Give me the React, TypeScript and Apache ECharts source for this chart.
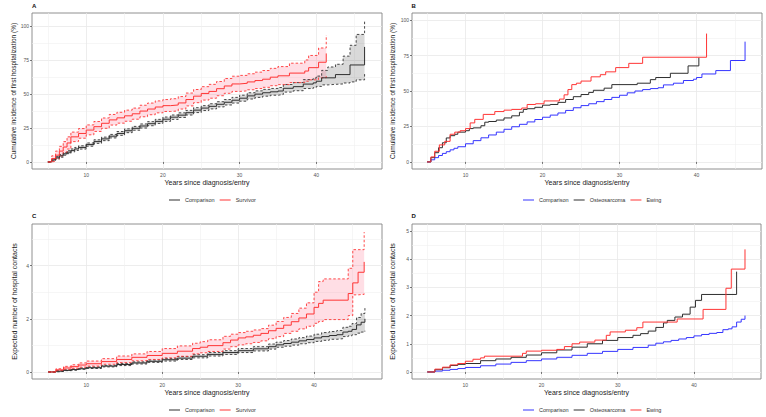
import React, { useEffect, useRef } from 'react';
import * as echarts from 'echarts';

// ---------- Panel A / B : cumulative incidence of first hospitalization (%) ----------
const compIncT = [5, 5.5, 6, 6.5, 7, 7.5, 8, 8.5, 9, 10, 11, 12, 13, 14, 15, 16, 17, 18, 19, 20, 21, 22, 23, 24, 25, 26, 27, 28, 29, 30, 31, 32, 33, 34, 35, 35.7, 37, 38.3, 39.6, 40, 40.7, 42.5, 44.4, 46.3];
const compIncV = [0, 1.5, 3, 4.5, 6, 7.2, 8.5, 9.6, 10.7, 12.8, 15, 17, 19, 21, 23, 24.8, 26.5, 28.2, 29.9, 31.5, 33, 34.5, 36.3, 38.2, 39.7, 41, 42.5, 44, 45.5, 47, 48.7, 50, 51, 51.7, 52.3, 54.3, 55.5, 57.4, 58.3, 59.5, 62, 64.4, 71.5, 84.8];
const compIncCiT = [5, 5.5, 6, 6.5, 7, 7.5, 8, 8.5, 9, 10, 11, 12, 13, 14, 15, 16, 17, 18, 19, 20, 21, 22, 23, 24, 25, 26, 27, 28, 29, 30, 31, 32, 33, 34, 35, 35.7, 37, 38.3, 39.6, 40, 40.7, 41.5, 42.5, 43.5, 44.4, 45.2, 46.3];
const compIncLo = [0, 0.8, 2.1, 3.5, 5, 6.1, 7.4, 8.5, 9.5, 11.6, 13.7, 15.7, 17.7, 19.6, 21.6, 23.4, 25, 26.7, 28.4, 29.9, 31.4, 32.8, 34.6, 36.4, 37.9, 39.1, 40.6, 42, 43.4, 44.8, 46.4, 47.6, 48.5, 49.2, 49.7, 51.5, 52.5, 54.1, 54.8, 55.7, 56.8, 57.2, 57.5, 58.2, 59, 60.5, 65];
const compIncHi = [0, 2.2, 3.9, 5.5, 7, 8.3, 9.6, 10.7, 11.9, 14, 16.3, 18.3, 20.3, 22.4, 24.4, 26.2, 28, 29.7, 31.4, 33.1, 34.6, 36.2, 38, 40, 41.5, 42.9, 44.4, 46, 47.6, 49.2, 51, 52.4, 53.5, 54.2, 54.9, 57.1, 58.5, 60.7, 61.8, 63.3, 67.5, 70, 72, 78, 86, 94, 104];

const survIncT = [5, 5.5, 6, 6.5, 7, 7.5, 8, 9, 10, 11, 12, 13, 14, 15, 16, 17, 18, 19, 20, 21, 22, 23, 24, 25, 26, 27, 28, 29, 30, 31, 32, 33, 34, 35, 36.5, 38.5, 39, 40.3, 41.3];
const survIncV = [0, 2.5, 5, 8, 11, 14, 18.5, 21, 23.5, 26, 28.5, 31, 32.5, 34, 35.5, 37.5, 39, 40.5, 41.5, 42, 43.5, 46, 48.5, 50.5, 52, 54, 56, 57.5, 58, 59, 60, 61, 62.5, 63.5, 65.5, 67, 69.5, 73.5, 80];
const survIncCiT = [5, 5.5, 6, 6.5, 7, 7.5, 8, 9, 10, 11, 12, 13, 14, 15, 16, 17, 18, 19, 20, 21, 22, 23, 24, 25, 26, 27, 28, 29, 30, 31, 32, 33, 34, 35, 36.5, 38.5, 39, 40.3, 41.3];
const survIncLo = [0, 0.5, 2.2, 4.5, 7, 9.5, 15, 17.5, 20, 22.5, 24.8, 27.2, 28.6, 30, 31.5, 33.3, 34.8, 36.2, 37.2, 37.6, 39, 41.3, 43.7, 45.6, 47, 48.8, 50.6, 52, 52.4, 53.2, 54.1, 55, 56.2, 57, 58.5, 59.5, 60.5, 62, 64];
const survIncHi = [0, 4.5, 8, 11.5, 15, 18.5, 22, 24.6, 27.3, 29.8, 32.4, 35, 36.6, 38.2, 39.7, 41.8, 43.4, 45, 46, 46.6, 48.2, 50.8, 53.4, 55.5, 57.2, 59.3, 61.5, 63.2, 63.8, 65, 66.2, 67.4, 69, 70.3, 72.8, 75.2, 78.5, 84, 93.5];

const osteoIncT = [5, 5.5, 6, 6.5, 7, 7.5, 8, 8.6, 9, 10, 10.5, 11, 12, 12.5, 13, 14, 15, 16, 17, 17.5, 18, 19, 20, 21, 22, 23, 24, 25, 26, 26.6, 28, 29, 32.3, 34, 34.7, 36.6, 38.9, 40.3];
const osteoIncV = [0, 3, 6.5, 10, 13.5, 16.9, 18.5, 19.5, 21, 22, 23.5, 24, 25.5, 28, 28.5, 29.5, 31, 32.5, 35, 37, 37.5, 38.5, 40, 40.5, 42, 44, 46, 47.5, 49, 50.5, 52, 54.5, 55.5, 58, 59.5, 62.5, 67.7, 73.5];
const ewingIncT = [5, 5.5, 6, 6.6, 7.3, 8, 8.6, 9.3, 10, 10.6, 11.2, 12.3, 13.8, 15, 16, 17.3, 18, 19.1, 20.2, 22.2, 22.8, 23.3, 23.8, 24.4, 25, 26.3, 27.5, 28.2, 29.5, 31.2, 33, 41.3];
const ewingIncV = [0, 3.5, 7.5, 12, 14.5, 19.5, 21, 22, 23.5, 27.5, 30, 33.5, 35.5, 36.5, 37, 38, 40.5, 41, 43, 44.3, 47.3, 51, 54.5, 55.5, 57, 60, 61.5, 63.5, 66.5, 69.5, 73.8, 90.5];

// ---------- Panel C / D : expected number of hospital contacts ----------
const compContT = [5, 6, 7, 8, 9, 10, 12, 14, 16, 18, 20, 22, 24, 26, 28, 30, 32, 34, 35, 36, 37, 38, 39, 40, 41, 42, 43, 43.8, 44.5, 45, 45.6, 46.2, 46.7];
const compContV = [0, 0.03, 0.06, 0.09, 0.12, 0.16, 0.22, 0.28, 0.34, 0.4, 0.46, 0.52, 0.59, 0.66, 0.73, 0.8, 0.87, 0.95, 1.02, 1.07, 1.12, 1.17, 1.22, 1.28, 1.33, 1.37, 1.4, 1.5, 1.53, 1.6, 1.77, 1.87, 2.0];
const compContCiT = [5, 6, 7, 8, 9, 10, 12, 14, 16, 18, 20, 22, 24, 26, 28, 30, 32, 34, 35, 36, 37, 38, 39, 40, 41, 42, 43, 43.8, 44.5, 45, 45.6, 46.2, 46.7];
const compContLo = [0, 0.02, 0.05, 0.07, 0.1, 0.13, 0.19, 0.24, 0.3, 0.36, 0.41, 0.47, 0.53, 0.6, 0.66, 0.73, 0.79, 0.86, 0.93, 0.97, 1.01, 1.06, 1.1, 1.15, 1.19, 1.23, 1.25, 1.33, 1.36, 1.4, 1.46, 1.5, 1.55];
const compContHi = [0, 0.04, 0.08, 0.11, 0.15, 0.19, 0.25, 0.32, 0.38, 0.45, 0.51, 0.58, 0.65, 0.73, 0.8, 0.88, 0.95, 1.05, 1.12, 1.18, 1.24, 1.29, 1.35, 1.42, 1.48, 1.52, 1.56, 1.68, 1.72, 1.82, 2.05, 2.2, 2.4];

const survContT = [5, 6, 7, 8, 9, 10, 12, 14, 16, 18, 20, 22, 24, 25, 26, 28, 29, 30, 31, 32, 33, 34, 35, 36, 37, 38, 39, 40, 40.6, 41.2, 44.5, 45.1, 45.8, 46.6];
const survContV = [0, 0.08, 0.15, 0.2, 0.26, 0.31, 0.39, 0.47, 0.55, 0.62, 0.7, 0.78, 0.88, 0.93, 0.99, 1.1, 1.2, 1.28, 1.32, 1.38, 1.45, 1.55, 1.64, 1.76, 1.89, 2.03, 2.18, 2.43, 2.58, 2.7, 2.95, 3.35, 3.75, 4.14];
const survContCiT = [5, 6, 7, 8, 9, 10, 12, 14, 16, 18, 20, 22, 24, 25, 26, 28, 29, 30, 31, 32, 33, 34, 35, 36, 37, 38, 39, 40, 40.6, 41.2, 44.5, 45.1, 45.8, 46.6];
const survContLo = [0, 0.05, 0.1, 0.14, 0.18, 0.22, 0.29, 0.35, 0.42, 0.47, 0.53, 0.59, 0.68, 0.72, 0.77, 0.86, 0.95, 1.02, 1.06, 1.11, 1.17, 1.25, 1.33, 1.45, 1.53, 1.62, 1.72, 1.83, 1.9, 1.97, 2.12, 2.9, 2.92, 2.95];
const survContHi = [0, 0.12, 0.21, 0.27, 0.34, 0.41, 0.5, 0.6, 0.68, 0.77, 0.88, 0.98, 1.08, 1.14, 1.21, 1.34, 1.42, 1.48, 1.53, 1.58, 1.63, 1.76, 1.9, 2.05, 2.2, 2.4, 2.6, 3.0, 3.4, 3.5, 3.9, 4.6, 4.6, 5.26];

const osteoContT = [5, 6, 7, 8, 9, 10, 12, 14, 16, 18, 20, 22, 24, 26, 28, 30, 32, 33, 34, 35, 36, 36.5, 37.5, 38.5, 39.5, 40.2, 41, 45.6];
const osteoContV = [0, 0.08, 0.15, 0.23, 0.27, 0.3, 0.4, 0.46, 0.52, 0.6, 0.68, 0.78, 0.88, 1.0, 1.12, 1.22, 1.3, 1.36, 1.45, 1.58, 1.74, 1.83, 1.95, 2.05, 2.3, 2.54, 2.75, 3.56];
const ewingContT = [5, 6, 7, 8, 9, 10, 11, 12, 12.5, 17.5, 18, 20, 22, 23, 24, 25, 27, 28.5, 29, 31, 32.5, 33.3, 37.8, 41.2, 44.2, 44.9, 46.7];
const ewingContV = [0, 0.1, 0.17, 0.25, 0.3, 0.38, 0.45, 0.5, 0.56, 0.66, 0.74, 0.77, 0.8, 0.9, 1.0, 1.06, 1.13, 1.3, 1.42, 1.48, 1.57, 1.77, 1.88, 2.22, 2.97, 3.65, 4.35];

// ---------- axes ----------
const panelLabels = ['A', 'B', 'C', 'D'];
const xTitle = 'Years since diagnosis/entry';
const yTitles = [
  'Cumulative incidence of first hospitalization (%)',
  'Cumulative incidence of first hospitalization (%)',
  'Expected number of hospital contacts',
  'Expected number of hospital contacts',
];
const xMajor = [10, 20, 30, 40];
const xMinor = [5, 15, 25, 35, 45];
const yMajor = [[0, 25, 50, 75, 100], [0, 25, 50, 75, 100], [0, 2, 4], [0, 1, 2, 3, 4, 5]];
const yMinor = [[12.5, 37.5, 62.5, 87.5], [12.5, 37.5, 62.5, 87.5], [1, 3, 5], [0.5, 1.5, 2.5, 3.5, 4.5]];
const xRanges = [[2.93, 48.57], [3.05, 48.5], [2.85, 48.95], [3.0, 48.8]];
const yRanges = [[-5.2, 109.8], [-5, 105], [-0.265, 5.565], [-0.25, 5.25]];

const FONT = "'Liberation Sans', Arial, sans-serif";
const RED = '#FF3535';
const BLUE = '#3535FF';
const DARK = '#2E2E2E';

export default function App() {
  const ref = useRef<HTMLDivElement>(null);
  useEffect(() => {
    if (!ref.current) return;
    const chart = echarts.init(ref.current, undefined, { renderer: 'svg' });

    const grids = [
      { left: 32, top: 13, width: 350, height: 156 },
      { left: 412, top: 13, width: 350, height: 156 },
      { left: 32, top: 224, width: 350, height: 155 },
      { left: 412, top: 224, width: 349, height: 155 },
    ].map((g) => ({ ...g, show: true, borderColor: '#858585', borderWidth: 0.9, backgroundColor: 'transparent' }));

    const xAxes: any[] = [];
    const yAxes: any[] = [];
    for (let i = 0; i < 4; i++) {
      xAxes.push({
        type: 'value', gridIndex: i, min: xRanges[i][0], max: xRanges[i][1], position: 'bottom',
        name: xTitle, nameLocation: 'middle', nameGap: 9.5,
        nameTextStyle: { fontSize: 7, color: '#1a1a1a', fontFamily: FONT },
        axisLine: { show: false },
        axisTick: { show: true, length: 2, customValues: xMajor, lineStyle: { color: '#555', width: 0.8 } },
        axisLabel: { show: true, customValues: xMajor, fontSize: 5, color: '#555', margin: 3, fontFamily: FONT },
        splitLine: { show: true, lineStyle: { color: '#E8E8E8', width: 0.8 } },
      });
      xAxes.push({
        type: 'value', gridIndex: i, min: xRanges[i][0], max: xRanges[i][1], position: 'top',
        axisLine: { show: false },
        axisTick: { show: false, customValues: xMinor },
        axisLabel: { show: false },
        splitLine: { show: true, lineStyle: { color: '#F0F0F0', width: 0.6 } },
      });
      yAxes.push({
        type: 'value', gridIndex: i, min: yRanges[i][0], max: yRanges[i][1], position: 'left',
        name: yTitles[i], nameLocation: 'middle', nameGap: i % 2 === 0 ? 14.5 : 16,
        nameTextStyle: { fontSize: i < 2 ? 6.5 : 7, color: '#1a1a1a', fontFamily: FONT },
        axisLine: { show: false },
        axisTick: { show: true, length: 2, customValues: yMajor[i], lineStyle: { color: '#555', width: 0.8 } },
        axisLabel: { show: true, customValues: yMajor[i], fontSize: 5, color: '#555', margin: 3, fontFamily: FONT },
        splitLine: { show: true, lineStyle: { color: '#E8E8E8', width: 0.8 } },
      });
      yAxes.push({
        type: 'value', gridIndex: i, min: yRanges[i][0], max: yRanges[i][1], position: 'right',
        axisLine: { show: false },
        axisTick: { show: false, customValues: yMinor[i] },
        axisLabel: { show: false },
        splitLine: { show: true, lineStyle: { color: '#F0F0F0', width: 0.6 } },
      });
    }

    const pts = (t: number[], v: number[]) => t.map((x, k) => [x, v[k]]);
    const lineS = (name: string, i: number, t: number[], v: number[], color: string, dashed = false) => ({
      type: 'line', name, xAxisIndex: 2 * i, yAxisIndex: 2 * i, data: pts(t, v), step: 'end',
      symbol: 'none', showSymbol: false, color, itemStyle: { color },
      lineStyle: dashed ? { color, width: 0.9, type: [2.5, 2] } : { color, width: 1 },
      silent: true, z: dashed ? 2 : 3,
    });
    // shaded step ribbon between lower and upper limits
    const bandS = (i: number, t: number[], lo: number[], hi: number[], fill: string) => ({
      type: 'custom', xAxisIndex: 2 * i, yAxisIndex: 2 * i, silent: true, z: 1,
      data: t.map((x, k) => [x, lo[k], hi[k]]),
      encode: { x: 0, y: [1, 2] },
      renderItem: (params: any, api: any) => {
        if (params.dataIndex !== 0) return null;
        const upper: number[][] = [];
        const lower: number[][] = [];
        const n = t.length;
        for (let k = 0; k < n; k++) {
          const x1 = k < n - 1 ? t[k + 1] : t[k];
          upper.push(api.coord([t[k], hi[k]]), api.coord([x1, hi[k]]));
          lower.push(api.coord([t[k], lo[k]]), api.coord([x1, lo[k]]));
        }
        return { type: 'polygon', shape: { points: upper.concat(lower.reverse()) }, style: { fill } };
      },
    });

    const GREY_FILL = 'rgba(0,0,0,0.15)';
    const PINK_FILL = 'rgba(255,105,135,0.22)';

    const series: any[] = [
      bandS(0, compIncCiT, compIncLo, compIncHi, GREY_FILL),
      bandS(0, survIncCiT, survIncLo, survIncHi, PINK_FILL),
      lineS('A:compLo', 0, compIncCiT, compIncLo, '#333', true),
      lineS('A:compHi', 0, compIncCiT, compIncHi, '#333', true),
      lineS('A:survLo', 0, survIncCiT, survIncLo, RED, true),
      lineS('A:survHi', 0, survIncCiT, survIncHi, RED, true),
      lineS('A:Comparison', 0, compIncT, compIncV, DARK),
      lineS('A:Survivor', 0, survIncT, survIncV, RED),
      lineS('B:Comparison', 1, compIncT, compIncV, BLUE),
      lineS('B:Osteosarcoma', 1, osteoIncT, osteoIncV, DARK),
      lineS('B:Ewing', 1, ewingIncT, ewingIncV, RED),
      bandS(2, compContCiT, compContLo, compContHi, GREY_FILL),
      bandS(2, survContCiT, survContLo, survContHi, PINK_FILL),
      lineS('C:compLo', 2, compContCiT, compContLo, '#333', true),
      lineS('C:compHi', 2, compContCiT, compContHi, '#333', true),
      lineS('C:survLo', 2, survContCiT, survContLo, RED, true),
      lineS('C:survHi', 2, survContCiT, survContHi, RED, true),
      lineS('C:Comparison', 2, compContT, compContV, DARK),
      lineS('C:Survivor', 2, survContT, survContV, RED),
      lineS('D:Comparison', 3, compContT, compContV, BLUE),
      lineS('D:Osteosarcoma', 3, osteoContT, osteoContV, DARK),
      lineS('D:Ewing', 3, ewingContT, ewingContV, RED),
    ];

    const legendBase = {
      orient: 'horizontal', padding: 0, itemGap: 5, itemWidth: 11, itemHeight: 1,
      icon: 'rect',
      textStyle: { fontSize: 5.5, color: '#333', fontFamily: FONT },
      formatter: (n: string) => n.split(':')[1],
      selectedMode: false,
    };
    const legends = [
      { ...legendBase, data: ['A:Comparison', 'A:Survivor'], left: 169, top: 197 },
      { ...legendBase, data: ['B:Comparison', 'B:Osteosarcoma', 'B:Ewing'], left: 523, top: 197 },
      { ...legendBase, data: ['C:Comparison', 'C:Survivor'], left: 169, top: 407 },
      { ...legendBase, data: ['D:Comparison', 'D:Osteosarcoma', 'D:Ewing'], left: 523, top: 407 },
    ];

    const titlePos = [[32, 3], [411.5, 3], [32, 213], [411.5, 213]];
    const titles = panelLabels.map((t, i) => ({
      text: t, left: titlePos[i][0], top: titlePos[i][1], padding: 0,
      textStyle: { fontSize: 6, fontWeight: 'bold', color: '#111', fontFamily: FONT },
    }));

    chart.setOption({
      animation: false,
      backgroundColor: '#fff',
      textStyle: { fontFamily: FONT },
      title: titles,
      legend: legends,
      grid: grids,
      xAxis: xAxes,
      yAxis: yAxes,
      series,
    });
    return () => chart.dispose();
  }, []);

  return <div ref={ref} style={{ position: 'absolute', left: 0, top: 0, width: 766, height: 417 }} />;
}
